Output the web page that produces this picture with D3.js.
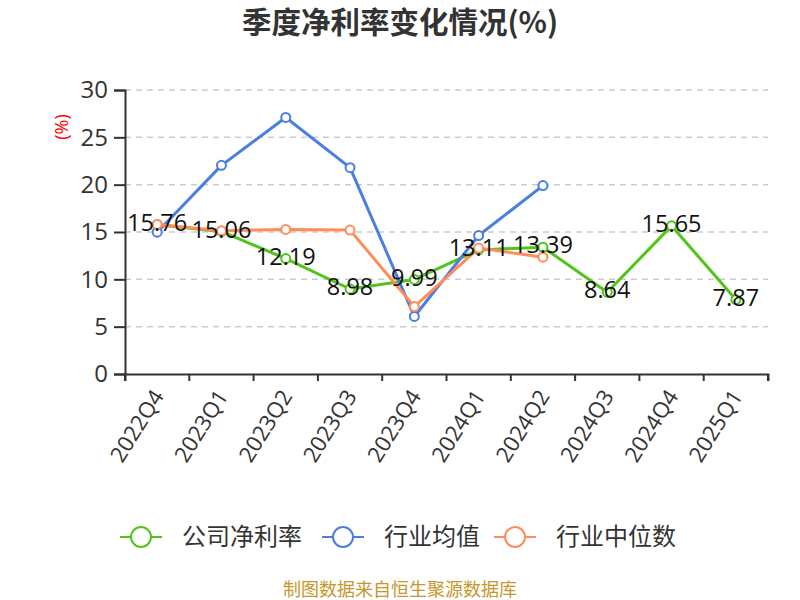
<!DOCTYPE html>
<html><head><meta charset="utf-8">
<script src="https://cdn.jsdelivr.net/npm/d3@7"></script>
<style>body{margin:0;background:#fff}</style>
</head><body>
<svg id="c" width="800" height="600"></svg>
<script>
const categories = ["2022Q4","2023Q1","2023Q2","2023Q3","2023Q4","2024Q1","2024Q2","2024Q3","2024Q4","2025Q1"];
const companyRate = [15.76,15.06,12.19,8.98,9.99,13.11,13.39,8.64,15.65,7.87];
const industryAvg = [14.98,22.04,27.1,21.8,6.08,14.63,19.9,null,null,null];
const industryMedian = [15.8,15.13,15.27,15.2,7.12,13.3,12.34,null,null,null];
const yTicks = [0,5,10,15,20,25,30];
const seriesNames = ["公司净利率","行业均值","行业中位数"];
const colors = ["#52c41a","#4a7fe0","#ff8c5a"];

const font = "'Open Sans','Noto Sans CJK SC',sans-serif";
const cjk = "'Noto Sans CJK SC',sans-serif";
const svg = d3.select("#c").style("font-family", font);
const L = 125, R = 768, T = 90, B = 374;
const x = d3.scaleBand().domain(categories).range([L, R]);
const y = d3.scaleLinear().domain([0, 30]).range([B, T]);
const cx = d => x(d) + x.bandwidth() / 2;

// title
svg.append("text").attr("x", 400).attr("y", 33).attr("text-anchor", "middle")
  .attr("font-size", 29.5).attr("font-weight", "bold").attr("fill", "#333")
  .attr("font-family", cjk).text("季度净利率变化情况(%)");

// grid
svg.append("g").selectAll("line").data(yTicks.filter(t => t > 0)).join("line")
  .attr("x1", L).attr("x2", R).attr("y1", d => y(d)).attr("y2", d => y(d))
  .attr("stroke", "#ccc").attr("stroke-width", 1.5).attr("stroke-dasharray", "6,5");

// y axis
const ya = svg.append("g").attr("transform", `translate(${L},0)`)
  .call(d3.axisLeft(y).tickValues(yTicks).tickSize(11).tickPadding(6));
ya.select(".domain").attr("stroke", "#333").attr("stroke-width", 2);
ya.selectAll(".tick line").attr("stroke", "#333").attr("stroke-width", 2);
ya.selectAll(".tick text").attr("font-size", 24).attr("fill", "#333").attr("font-family", font);

// y label
svg.append("text").attr("transform", `translate(62,127) rotate(-90)`).attr("text-anchor", "middle")
  .attr("dy", "0.35em").attr("font-size", 18).attr("fill", "red").text("(%)");

// x axis
const xa = svg.append("g").attr("transform", `translate(0,${B})`)
  .call(d3.axisBottom(x).tickSize(7).tickSizeOuter(7));
xa.select(".domain").attr("stroke", "#333").attr("stroke-width", 2);
xa.selectAll(".tick line").attr("stroke", "#333").attr("stroke-width", 2)
  .attr("transform", `translate(${-x.bandwidth()/2},0)`);
xa.append("line").attr("x1", R).attr("x2", R).attr("y1", 0).attr("y2", 7).attr("stroke", "#333").attr("stroke-width", 2);
xa.selectAll(".tick text").attr("font-size", 22).attr("fill", "#333").attr("font-family", font)
  .attr("text-anchor", "end").attr("dy", "0.35em").attr("y", 0)
  .attr("transform", "translate(1,18) rotate(-58)");

// series
const seriesData = [companyRate, industryAvg, industryMedian];
const line = d3.line().defined(d => d.v != null).x(d => cx(d.c)).y(d => y(d.v));
seriesData.forEach((vals, i) => {
  const pts = categories.map((c, j) => ({c, v: vals[j]}));
  const g = svg.append("g");
  g.append("path").datum(pts).attr("d", line).attr("fill", "none")
    .attr("stroke", colors[i]).attr("stroke-width", 3).attr("stroke-linejoin", "round");
  g.selectAll("circle").data(pts.filter(d => d.v != null)).join("circle")
    .attr("cx", d => cx(d.c)).attr("cy", d => y(d.v)).attr("r", 4.5)
    .attr("fill", "#fff").attr("stroke", colors[i]).attr("stroke-width", 2);
});

// labels for company series
svg.append("g").selectAll("text").data(categories.map((c, j) => ({c, v: companyRate[j]}))).join("text")
  .attr("x", d => cx(d.c)).attr("y", d => y(d.v) - 2).attr("dy", "0.35em")
  .attr("text-anchor", "middle").attr("font-size", 23.5).attr("fill", "#111")
  .text(d => d.v.toFixed(2));

// legend
const legX = [120, 322, 494];
seriesNames.forEach((n, i) => {
  const g = svg.append("g").attr("transform", `translate(${legX[i]},537)`);
  g.append("line").attr("x1", 0).attr("x2", 42).attr("stroke", colors[i]).attr("stroke-width", 2);
  g.append("circle").attr("cx", 21).attr("r", 10).attr("fill", "#fff").attr("stroke", colors[i]).attr("stroke-width", 2);
  g.append("text").attr("x", 62).attr("dy", "0.35em").attr("font-size", 24).attr("fill", "#333")
    .attr("font-family", cjk).text(n);
});

// source
svg.append("text").attr("x", 400).attr("y", 596).attr("text-anchor", "middle")
  .attr("font-size", 18).attr("fill", "#c8962a").attr("font-family", cjk).text("制图数据来自恒生聚源数据库");
</script>
</body></html>
